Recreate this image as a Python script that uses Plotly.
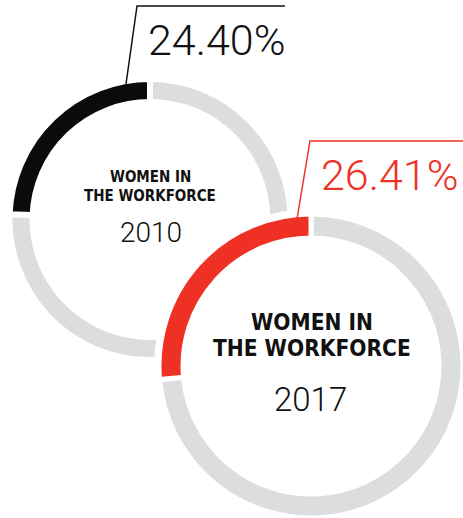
import plotly.graph_objects as go

# Canvas size in pixels
W, H = 463, 518

# Data: share of women in the workforce per year
years = ["2010", "2017"]
women_share = [24.40, 26.41]
heading = ["WOMEN IN", "THE WORKFORCE"]

# Colours
ACCENT = ["#0b0b0b", "#ee3124"]
REST = "#dcdddf"

# Ring geometry (pixels): centre x, centre y, outer radius, hole fraction, gap width
rings = [
    dict(cx=150.0, cy=219.5, r=140.5, hole=0.836, gap=6),
    dict(cx=311.0, cy=366.0, r=152.0, hole=0.842, gap=5),
]


def px_domain(cx, cy, r):
    return dict(
        x=[max(0.0, (cx - r) / W), min(1.0, (cx + r) / W)],
        y=[max(0.0, 1 - (cy + r) / H), min(1.0, 1 - (cy - r) / H)],
    )


def px(x, y):
    return x / W, 1 - y / H


fig = go.Figure()

for i, (yr, share) in enumerate(zip(years, women_share)):
    g = rings[i]
    if i > 0:
        # white disc that knocks out the ring behind this one
        fig.add_trace(go.Pie(
            values=[1], labels=["bg"], domain=px_domain(g["cx"], g["cy"], g["r"]),
            marker=dict(colors=["#ffffff"], line=dict(color="#ffffff", width=10)),
            textinfo="none", hoverinfo="skip", sort=False, showlegend=False,
        ))
    # clockwise from 12 o'clock: the remainder first, so the women's share
    # closes the ring and sits just left of the top
    fig.add_trace(go.Pie(
        values=[100 - share, share],
        labels=["Men", "Women"],
        domain=px_domain(g["cx"], g["cy"], g["r"]),
        hole=g["hole"],
        sort=False,
        direction="clockwise",
        rotation=0,
        marker=dict(colors=[REST, ACCENT[i]], line=dict(color="#ffffff", width=g["gap"])),
        textinfo="none",
        hoverinfo="skip",
        showlegend=False,
        name=yr,
    ))

annotations = []


def add_text(text, x, y, size, family, color="#111111", weight="normal", xanchor="center"):
    xp, yp = px(x, y)
    annotations.append(dict(
        text=text, x=xp, y=yp, xref="paper", yref="paper",
        xanchor=xanchor, yanchor="middle", showarrow=False,
        font=dict(family=family, size=size, color=color, weight=weight),
    ))


BOLD = "DejaVu Sans Condensed, Liberation Sans, sans-serif"
LIGHT = "Roboto, Lato, sans-serif"

# 2010 ring labels
add_text(heading[0], 150, 177, 15, BOLD, weight="bold")
add_text(heading[1], 150, 196, 15, BOLD, weight="bold")
add_text(years[0], 150.5, 232, 28, LIGHT, weight=300)

# 2017 ring labels
add_text(heading[0], 311.5, 322, 22.5, BOLD, weight="bold")
add_text(heading[1], 311.5, 347.5, 22.5, BOLD, weight="bold")
add_text(years[1], 310, 399, 33, LIGHT, weight=300)

# Percentage call-outs
add_text(f"{women_share[0]:.2f}%", 146, 39.5, 43, LIGHT, color="#111111", weight=300, xanchor="left")
add_text(f"{women_share[1]:.2f}%", 319, 175, 43, LIGHT, color=ACCENT[1], weight=300, xanchor="left")


def leader(points, color):
    d = "M " + " L ".join(f"{px(x, y)[0]:.5f} {px(x, y)[1]:.5f}" for x, y in points)
    return dict(type="path", path=d, xref="paper", yref="paper", layer="above",
                line=dict(color=color, width=1.5))


shapes = [
    leader([(126, 84), (137, 6), (285, 6)], "#111111"),
    leader([(297, 219), (310, 141), (463, 141)], ACCENT[1]),
]

fig.update_layout(
    width=W, height=H,
    margin=dict(l=0, r=0, t=0, b=0),
    paper_bgcolor="#ffffff", plot_bgcolor="#ffffff",
    annotations=annotations, shapes=shapes,
    showlegend=False,
)

fig.write_html("out.html")
